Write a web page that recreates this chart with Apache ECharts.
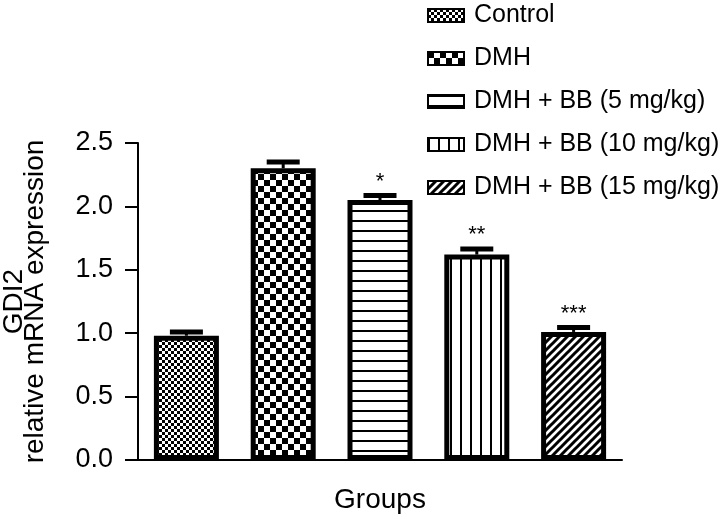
<!DOCTYPE html>
<html>
<head>
<meta charset="utf-8">
<script src="https://cdn.jsdelivr.net/npm/echarts@6/dist/echarts.min.js"></script>
<style>
html,body{margin:0;padding:0;background:#fff;}
#chart{width:720px;height:519px;}
</style>
</head>
<body>
<div id="chart"></div>
<script>
const categories = ['Control', 'DMH', 'DMH + BB (5 mg/kg)', 'DMH + BB (10 mg/kg)', 'DMH + BB (15 mg/kg)'];
const means = [0.98, 2.30, 2.05, 1.62, 1.01];
const errors = [0.03, 0.05, 0.035, 0.045, 0.035];
const stars = ['', '', '*', '**', '***'];
const yMin = 0, yMax = 2.5, yStep = 0.5;
const yTitle = 'GDI2\nrelative mRNA expression';
const xTitle = 'Groups';

function makePattern(kind) {
  const c = document.createElement('canvas');
  const g = c.getContext('2d');
  if (kind === 'fineCheck') {
    c.width = 6; c.height = 6;
    g.fillStyle = '#fff'; g.fillRect(0, 0, 6, 6);
    g.fillStyle = '#000';
    g.fillRect(0, 0, 3, 3); g.fillRect(3, 3, 3, 3);
  } else if (kind === 'check') {
    c.width = 12; c.height = 12;
    g.fillStyle = '#fff'; g.fillRect(0, 0, 12, 12);
    g.fillStyle = '#000';
    g.fillRect(0, 0, 6, 6); g.fillRect(6, 6, 6, 6);
  } else if (kind === 'hlines') {
    c.width = 10; c.height = 10;
    g.fillStyle = '#fff'; g.fillRect(0, 0, 10, 10);
    g.fillStyle = '#000'; g.fillRect(0, 0, 10, 2);
  } else if (kind === 'vlines') {
    c.width = 10; c.height = 10;
    g.fillStyle = '#fff'; g.fillRect(0, 0, 10, 10);
    g.fillStyle = '#000'; g.fillRect(0, 0, 2, 10);
  } else if (kind === 'diag') {
    c.width = 8; c.height = 8;
    g.fillStyle = '#fff'; g.fillRect(0, 0, 8, 8);
    g.strokeStyle = '#000'; g.lineWidth = 3;
    g.beginPath();
    g.moveTo(-2, 10); g.lineTo(10, -2);
    g.moveTo(-6, 6); g.lineTo(6, -6);
    g.moveTo(2, 14); g.lineTo(14, 2);
    g.stroke();
  }
  return { image: c, repeat: 'repeat' };
}
const patternKinds = ['fineCheck', 'check', 'hlines', 'vlines', 'diag'];

const FONT = 'Liberation Sans, Arial, Helvetica, sans-serif';

const barSeries = categories.map((name, i) => ({
  name: name,
  type: 'bar',
  barWidth: 65,
  barGap: '-100%',
  data: categories.map((c, j) => (j === i ? means[j] : '-')),
  itemStyle: {
    color: makePattern(patternKinds[i]),
    borderColor: '#000',
    borderWidth: 5
  },
  z: 2
}));

const errSeries = {
  type: 'custom',
  name: 'err',
  z: 5,
  data: means.map((m, i) => [i, m, errors[i]]),
  renderItem: function (params, api) {
    const x = api.value(0);
    const m = api.value(1);
    const e = api.value(2);
    const idx = params.dataIndex;
    const base = api.coord([x, m]);
    const top = api.coord([x, m + e]);
    const half = 16.5;
    const children = [
      { type: 'line', shape: { x1: base[0], y1: base[1], x2: top[0], y2: top[1] }, style: { stroke: '#000', lineWidth: 3 } },
      { type: 'line', shape: { x1: top[0] - half, y1: top[1], x2: top[0] + half, y2: top[1] }, style: { stroke: '#000', lineWidth: 5 } }
    ];
    const s = stars[idx];
    if (s) {
      children.push({
        type: 'text',
        style: { text: s, x: top[0], y: top[1] - 3, align: 'center', verticalAlign: 'bottom', fontSize: 22, fontFamily: FONT, fill: '#000' }
      });
    }
    return { type: 'group', children: children };
  }
};

const chart = echarts.init(document.getElementById('chart'), null, { renderer: 'canvas' });
chart.setOption({
  animation: false,
  backgroundColor: '#fff',
  textStyle: { fontFamily: FONT, color: '#000' },
  grid: { left: 138, right: 98, top: 143, bottom: 59, containLabel: false, outerBoundsMode: 'none' },
  legend: {
    data: categories,
    orient: 'vertical',
    left: 427,
    top: 3,
    padding: 0,
    itemWidth: 36,
    itemHeight: 13,
    itemGap: 18,
    textStyle: { fontSize: 25, color: '#000', fontFamily: FONT, padding: [0, 0, 0, 5] },
    icon: 'rect'
  },
  xAxis: {
    type: 'category',
    data: categories,
    name: xTitle,
    nameLocation: 'middle',
    nameGap: 26,
    nameTextStyle: { fontSize: 28, color: '#000', fontFamily: FONT, verticalAlign: 'top' },
    axisLine: { lineStyle: { color: '#000', width: 2 } },
    axisTick: { alignWithLabel: true, interval: 0, length: 11, lineStyle: { color: '#000', width: 2 } },
    axisLabel: { show: false },
    splitLine: { show: false }
  },
  yAxis: {
    type: 'value',
    min: yMin,
    max: yMax,
    interval: yStep,
    name: yTitle,
    nameLocation: 'middle',
    nameRotate: 90,
    nameGap: 92,
    nameTextStyle: { fontSize: 28, color: '#000', fontFamily: FONT, lineHeight: 21, align: 'center' },
    axisLine: { show: true, lineStyle: { color: '#000', width: 2 } },
    axisTick: { show: true, length: 13, lineStyle: { color: '#000', width: 2 } },
    axisLabel: { fontSize: 27, color: '#000', fontFamily: FONT, margin: 25, formatter: v => v.toFixed(1) },
    splitLine: { show: false }
  },
  series: barSeries.concat([errSeries])
});
</script>
</body>
</html>
